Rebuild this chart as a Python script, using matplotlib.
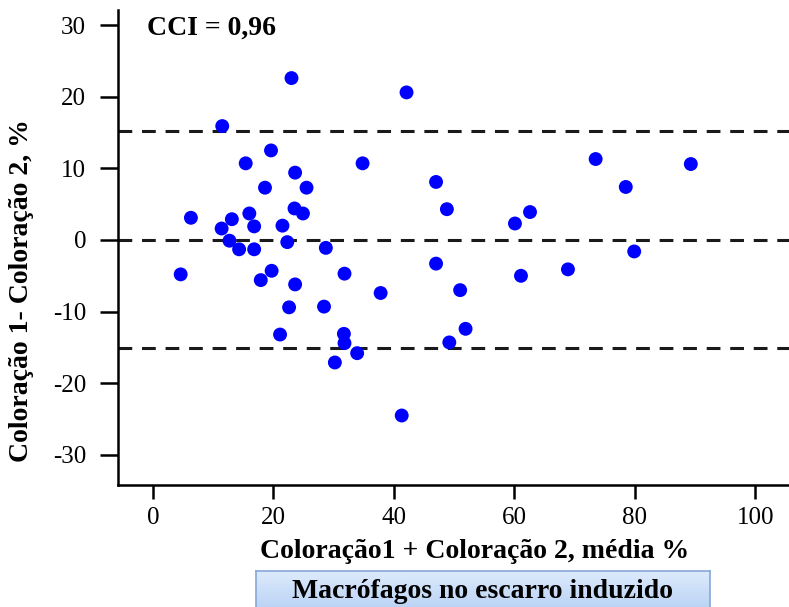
import numpy as np
import matplotlib
matplotlib.use("Agg")
import matplotlib.pyplot as plt

plt.rcParams['font.family'] = ['Liberation Serif', 'DejaVu Serif']
plt.rcParams['axes.unicode_minus'] = False

# media das duas colorações (%) e diferença (%)
media = [6.3, 4.6, 11.4, 13.1, 16.0, 16.8, 12.7, 14.3, 16.8, 21.5,
         23.5, 24.9, 22.3, 28.7, 19.7, 17.9, 23.6, 31.8, 22.6, 28.4,
         18.6, 25.5, 23.0, 42.1, 11.5, 19.6, 15.4, 34.8, 23.6, 47.0,
         48.8, 73.5, 89.3, 78.5, 62.6, 60.1, 79.9, 47.0, 61.1, 68.9,
         51.0, 51.9, 49.2, 37.8, 21.1, 31.7, 31.8, 33.9, 30.2, 41.3]
diferenca = [3.1, -4.8, 1.6, 2.9, 3.7, 1.9, -0.1, -1.3, -1.3, 2.0,
             4.4, 3.7, -0.3, -1.1, -4.3, -5.6, -6.2, -4.7, -9.4, -9.3,
             7.3, 7.3, 22.6, 20.6, 15.9, 12.5, 10.7, 10.7, 9.4, 8.1,
             4.3, 11.3, 10.6, 7.4, 3.9, 2.3, -1.6, -3.3, -5.0, -4.1,
             -7.0, -12.4, -14.3, -7.4, -13.2, -13.1, -14.4, -15.8, -17.1, -24.5]

limites = [15.2, 0, -15.1]
xticks = [0, 20, 40, 60, 80, 100]
yticks = [30, 20, 10, 0, -10, -20, -30]

fig = plt.figure(figsize=(7.89, 6.07), dpi=100)
ax = fig.add_axes([0.1496, 0.201, 0.8504, 0.7825])

ax.scatter(media, diferenca, s=100, color='#0000ff', edgecolors='none', zorder=3)
for y in limites:
    ax.axhline(y, color='#1a1a1a', lw=2.2, dashes=(4.5, 3.2), zorder=2)

ax.set_xlim(-5.8, 105.6)
ax.set_ylim(-34.2, 32.1)
ax.set_xticks(xticks)
ax.set_yticks(yticks)

for s in ['top', 'right']:
    ax.spines[s].set_visible(False)
for s in ['left', 'bottom']:
    ax.spines[s].set_linewidth(1.8)
ax.tick_params(axis='y', direction='out', length=13, width=1.8, labelsize=18, pad=10)
ax.tick_params(axis='x', direction='out', length=10, width=1.8, labelsize=18, pad=6)

ax.text(0.043, 0.962, 'CCI = 0,96', transform=ax.transAxes, fontsize=20,
        fontweight='bold', va='center', ha='left')

fig.text(0.027, 0.522, 'Coloração 1- Coloração 2, %', rotation=90, fontsize=20,
         fontweight='bold', ha='center', va='center')
fig.text(0.602, 0.091, 'Coloração1 + Coloração 2, média %', fontsize=20,
         fontweight='bold', ha='center', va='center')

# caixa com gradiente
bx = fig.add_axes([256 / 789, -0.03, (710 - 256) / 789, 0.0593 + 0.03])
grad = np.linspace(0, 1, 50).reshape(-1, 1)
top = np.array([0.87, 0.92, 0.99])
bot = np.array([0.67, 0.79, 0.95])
img = top + (bot - top) * grad[:, :, None]
bx.imshow(img, aspect='auto', extent=[0, 1, 0, 1])
bx.set_xticks([])
bx.set_yticks([])
for s in bx.spines.values():
    s.set_color('#86a8d8')
    s.set_linewidth(1.2)
fig.text(0.612, 0.026, 'Macrófagos no escarro induzido', fontsize=20,
         fontweight='bold', ha='center', va='center')

fig.savefig('out.png', dpi=100)
